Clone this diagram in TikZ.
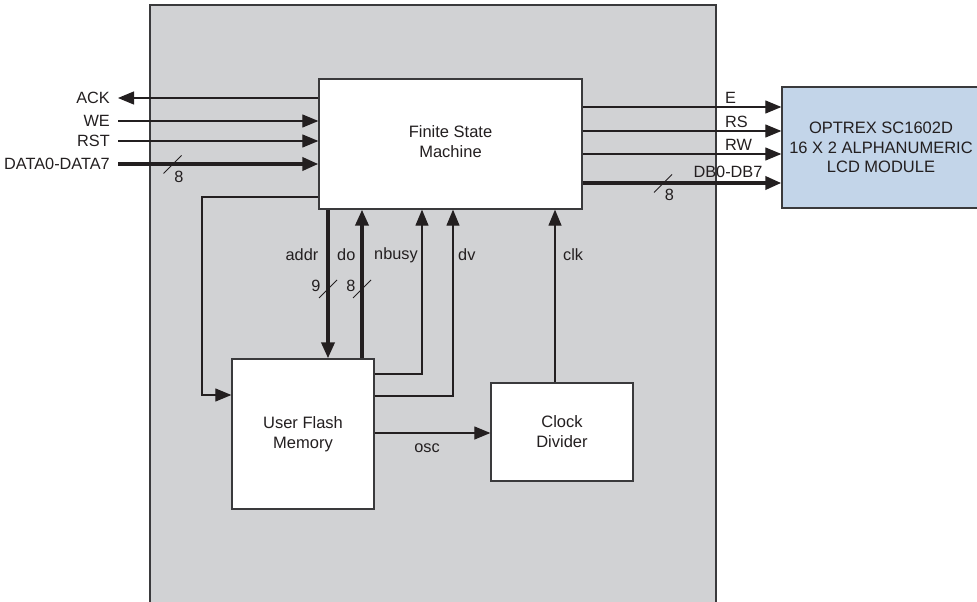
\documentclass[tikz,border=0pt]{standalone}
\usepackage{fontspec}
\setmainfont{Liberation Sans}
\usetikzlibrary{arrows.meta}
\definecolor{fpgagray}{HTML}{D1D2D4}
\definecolor{lcdblue}{HTML}{C3D5E9}
\definecolor{ink}{HTML}{231F20}
\definecolor{edge}{HTML}{3A3A3C}
\tikzset{
  blk/.style={draw=edge, line width=1.3pt, fill=white, inner sep=0pt, align=center, text=ink,
              font=\fontsize{16.5}{20}\selectfont},
  lbl/.style={inner sep=0pt, text=ink, font=\fontsize{16.3}{20}\selectfont},
  sig/.style={draw=ink, line width=1.2pt},
  bus/.style={draw=ink, line width=3.6pt},
  tip/.style={-{Triangle[length=16pt,width=13pt]}},
  slashline/.style={draw=ink, line width=1pt}
}
\begin{document}
\begin{tikzpicture}[x=1pt,y=-1pt]
\useasboundingbox (0,0) rectangle (977,602);
% FPGA area
\draw[fill=fpgagray, draw=edge, line width=1.3pt] (150,5) rectangle (716,612);
% blocks
\node[blk, minimum width=263pt, minimum height=130pt] (fsm) at (450.5,144) {};
\node[lbl, align=center, font=\fontsize{16.5}{20}\selectfont] (fsmtext) at (450.5,141.5) {Finite State\\Machine};
\node[blk, fill=lcdblue, minimum width=205pt, minimum height=121pt] (lcd) at (884.5,147.5) {};
\node[lbl, align=center, font=\fontsize{16.5}{19.5}\selectfont] (lcdtext) at (881,147.5) {OPTREX SC1602D\\16 X 2 ALPHANUMERIC\\LCD MODULE};
\node[blk, minimum width=142pt, minimum height=150pt] (ufm) at (303,434) {User Flash\\Memory};
\node[blk, minimum width=142pt, minimum height=98pt] (cd) at (562,432) {Clock\\Divider};
% left-side signals
\node[lbl, anchor=east] (ackL) at (110,98) {ACK};
\node[lbl, anchor=east] (weL) at (110,121) {WE};
\node[lbl, anchor=east] (rstL) at (110,141) {RST};
\node[lbl, anchor=east] (dataL) at (110,164) {DATA0-DATA7};
\coordinate (ackE) at (118,98);
\coordinate (weE) at (118,121);
\coordinate (rstE) at (118,141);
\coordinate (dataE) at (118,164);
\draw[sig, tip] (fsm.west |- ackE) -- (ackE);
\draw[sig, tip] (weE) -- (fsm.west |- weE);
\draw[sig, tip] (rstE) -- (fsm.west |- rstE);
\draw[bus, tip] (dataE) -- (fsm.west |- dataE);
\coordinate (dslash) at (172.5,164.5);
\draw[slashline] ([shift={(-9,9)}]dslash) -- ([shift={(9,-9)}]dslash);
\node[lbl] (dataW) at (179,177) {8};
% right-side signals
\coordinate (eY) at (0,107);
\coordinate (rsY) at (0,131);
\coordinate (rwY) at (0,154);
\coordinate (dbY) at (0,183);
\draw[sig, tip] (fsm.east |- eY) -- (lcd.west |- eY);
\draw[sig, tip] (fsm.east |- rsY) -- (lcd.west |- rsY);
\draw[sig, tip] (fsm.east |- rwY) -- (lcd.west |- rwY);
\draw[bus, tip] (fsm.east |- dbY) -- (lcd.west |- dbY);
\node[lbl, anchor=west] (eL) at (725,98) {E};
\node[lbl, anchor=west] (rsL) at (725,122) {RS};
\node[lbl, anchor=west] (rwL) at (725,145) {RW};
\node[lbl] (dbL) at (728,172) {DB0-DB7};
\coordinate (dbslash) at (663,183.5);
\draw[slashline] ([shift={(-9,9)}]dbslash) -- ([shift={(9,-9)}]dbslash);
\node[lbl] (dbW) at (669.5,195) {8};
% FSM <-> UFM
\coordinate (addrX) at (328,0);
\coordinate (doX) at (362,0);
\coordinate (nbX) at (422,0);
\coordinate (dvX) at (453,0);
\coordinate (clkX) at (555,0);
\draw[bus, tip] (fsm.south -| addrX) -- (ufm.north -| addrX);
\draw[bus, tip] (ufm.north -| doX) -- (fsm.south -| doX);
\coordinate (nbY) at (0,374);
\coordinate (dvY) at (0,396);
\draw[sig, tip] (ufm.east |- nbY) -| (fsm.south -| nbX);
\draw[sig, tip] (ufm.east |- dvY) -| (fsm.south -| dvX);
\draw[sig, tip] (cd.north -| clkX) -- (fsm.south -| clkX);
\coordinate (loopY) at (0,197);
\coordinate (loopX) at (202,0);
\coordinate (inY) at (0,395);
\draw[sig, tip] (fsm.west |- loopY) -| (loopX |- inY) -- (ufm.west |- inY);
\coordinate (oscY) at (0,433);
\draw[sig, tip] (ufm.east |- oscY) -- (cd.west |- oscY);
% bus width marks
\coordinate (aslash) at (328,289);
\coordinate (oslash) at (362,289);
\draw[slashline] ([shift={(-9,9)}]aslash) -- ([shift={(9,-9)}]aslash);
\draw[slashline] ([shift={(-9,9)}]oslash) -- ([shift={(9,-9)}]oslash);
\node[lbl] (addrW) at (316,286) {9};
\node[lbl] (doW) at (351,286) {8};
% connector labels
\node[lbl, anchor=east] (addrL) at (318.5,255) {addr};
\node[lbl, anchor=west] (doL) at (337,255) {do};
\node[lbl, anchor=west] (nbL) at (374,255) {nbusy};
\node[lbl, anchor=west] (dvL) at (458,255) {dv};
\node[lbl, anchor=west] (clkL) at (563,255) {clk};
\node[lbl] (oscL) at (427,448) {osc};
\end{tikzpicture}
\end{document}
